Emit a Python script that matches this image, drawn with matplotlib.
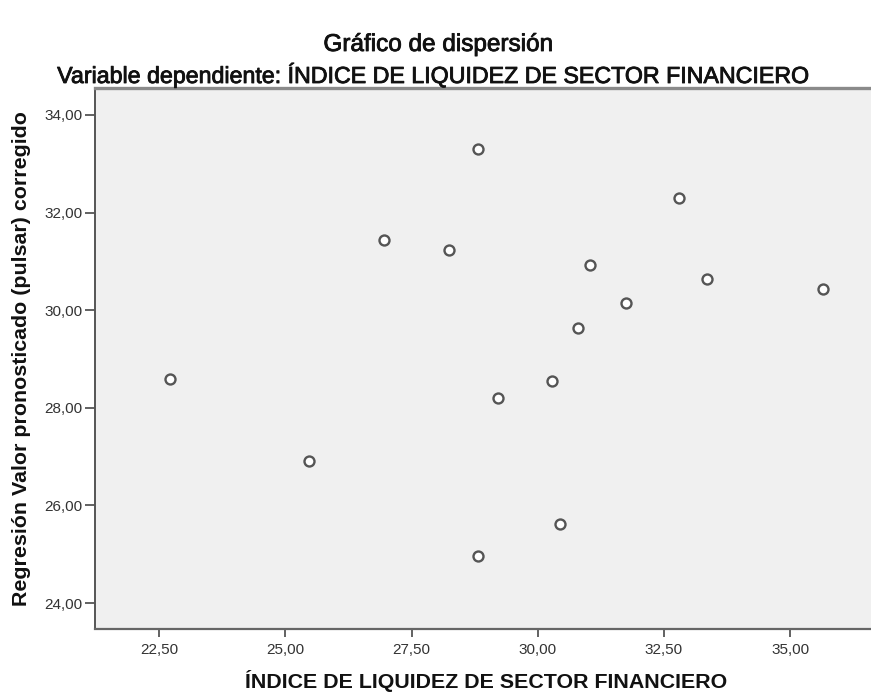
import matplotlib.pyplot as plt
import matplotlib.patheffects as pe
from matplotlib.ticker import FuncFormatter

plt.rcParams['font.family'] = ['Liberation Sans', 'DejaVu Sans']

# Observed index vs. corrected predicted value
indice_liquidez = [22.72, 25.46, 26.96, 28.25, 28.81, 28.81, 29.21, 30.28,
                   30.45, 30.79, 31.03, 31.75, 32.80, 33.35, 35.64]
valor_pronosticado = [28.58, 26.92, 31.44, 31.24, 33.30, 24.97, 28.20, 28.54,
                      25.62, 29.64, 30.93, 30.15, 32.30, 30.63, 30.44]

x_ticks = [22.5, 25.0, 27.5, 30.0, 32.5, 35.0]
y_ticks = [24.0, 26.0, 28.0, 30.0, 32.0, 34.0]

# slightly heavier strokes for the header text
heavy = [pe.withStroke(linewidth=0.6, foreground='#111111')]

fig = plt.figure(figsize=(8.71, 6.93), dpi=100)
ax = fig.add_axes([95 / 871, 1 - 629 / 693, 1 - 95 / 871, (629 - 88) / 693])
ax.set_facecolor('#f0f0f0')

ax.plot(indice_liquidez, valor_pronosticado, linestyle='none', marker='o',
        markersize=7.2, markeredgewidth=1.7, markerfacecolor='white',
        markeredgecolor='#555555')

ax.set_xlim(21.23, 36.6)
ax.set_ylim(23.47, 34.55)
ax.set_xticks(x_ticks)
ax.set_yticks(y_ticks)

comma = FuncFormatter(lambda v, pos: f'{v:.2f}'.replace('.', ','))
ax.xaxis.set_major_formatter(comma)
ax.yaxis.set_major_formatter(comma)

ax.tick_params(axis='x', direction='out', length=6, width=1.3, color='#555555',
               labelsize=11, labelcolor='#333333', pad=4)
ax.tick_params(axis='y', direction='out', length=7, width=1.3, color='#555555',
               labelsize=11, labelcolor='#333333', pad=2)

ax.spines['right'].set_visible(False)
ax.spines['left'].set_color('#555555')
ax.spines['left'].set_linewidth(1.4)
ax.spines['bottom'].set_color('#666666')
ax.spines['bottom'].set_linewidth(1.6)
ax.spines['top'].set_color('#8a8a8a')
ax.spines['top'].set_linewidth(2.4)

ax.set_xlabel('ÍNDICE DE LIQUIDEZ DE SECTOR FINANCIERO', fontsize=15.4,
              fontweight='bold', color='#111111', va='center')
ax.xaxis.set_label_coords((486.5 - 95) / (871 - 95), -(681.5 - 629) / (629 - 88))
ax.set_ylabel('Regresión Valor pronosticado (pulsar) corregido', fontsize=15.4,
              fontweight='bold', color='#111111', va='center')
ax.yaxis.set_label_coords(-(95 - 22) / (871 - 95), (629 - 359) / (629 - 88))

fig.text(438 / 871, 1 - 45 / 693, 'Gráfico de dispersión', ha='center',
         va='center', fontsize=17.5, color='#111111', path_effects=heavy)
fig.text(431 / 871, 1 - 75 / 693,
         'Variable dependiente: ÍNDICE DE LIQUIDEZ DE SECTOR FINANCIERO',
         ha='center', va='center', fontsize=16.7, color='#111111',
         path_effects=heavy)

fig.savefig('out.png', dpi=100)
